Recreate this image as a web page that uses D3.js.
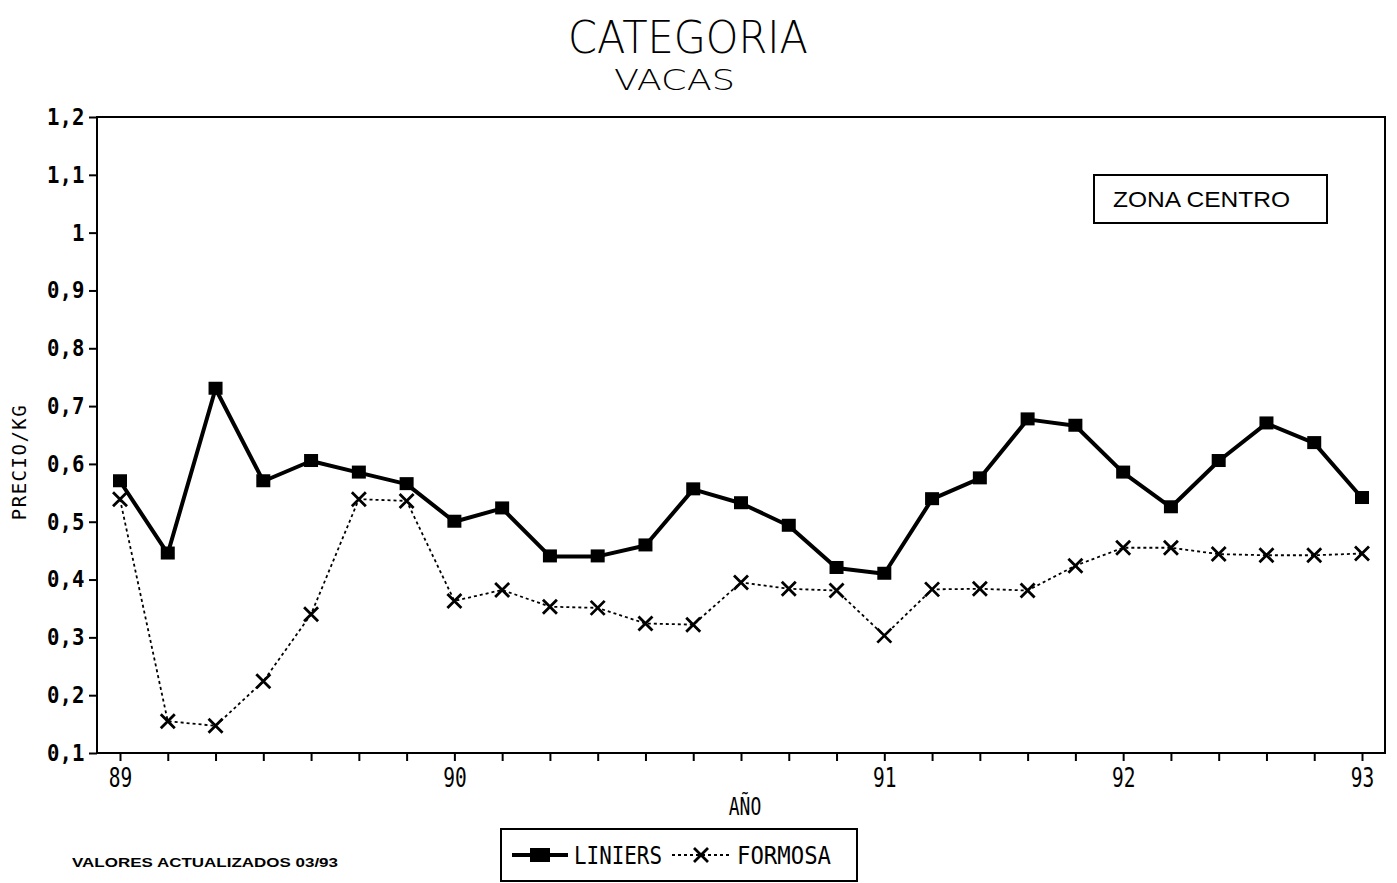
<!DOCTYPE html>
<html>
<head>
<meta charset="utf-8">
<script src="https://cdn.jsdelivr.net/npm/d3@7"></script>
<style>
  body { margin: 0; background: #fff; }
  svg { display: block; }
</style>
</head>
<body>
<script>
var W = 1397, H = 883;

// ---- data ----
var periods = ["89","","","","","","","90","","","","","","","","","91","","","","","92","","","","","93"];
var liniers = [0.57, 0.445, 0.73, 0.57, 0.605, 0.585, 0.565, 0.50, 0.523, 0.44, 0.44, 0.459, 0.556,
               0.532, 0.493, 0.42, 0.41, 0.539, 0.575, 0.677, 0.666, 0.585, 0.525, 0.605, 0.67, 0.636, 0.541];
var formosa = [0.539, 0.155, 0.147, 0.224, 0.34, 0.539, 0.536, 0.363, 0.382, 0.353, 0.351, 0.324, 0.322,
               0.395, 0.384, 0.381, 0.303, 0.383, 0.384, 0.381, 0.424, 0.455, 0.455, 0.444, 0.442, 0.442, 0.445];
var yTicks = [0.1, 0.2, 0.3, 0.4, 0.5, 0.6, 0.7, 0.8, 0.9, 1, 1.1, 1.2];
var seriesNames = ["LINIERS", "FORMOSA"];

var MONO = "DejaVu Sans Mono, monospace";
var SANS = "Liberation Sans, Arial, sans-serif";

var svg = d3.select("body").append("svg")
    .attr("width", W)
    .attr("height", H);

var x = d3.scaleLinear().domain([0, periods.length - 1]).range([120, 1362]);
var y = d3.scaleLinear().domain([0.1, 1.2]).range([753, 117]);

var fmt = function(v) { return String(+v.toFixed(1)).replace(".", ","); };

// titles
svg.append("text")
    .attr("x", 568).attr("y", 53)
    .attr("font-family", "DejaVu Sans, sans-serif")
    .attr("font-weight", 200)
    .attr("font-size", 44)
    .attr("textLength", 240).attr("lengthAdjust", "spacingAndGlyphs")
    .text("CATEGORIA");
svg.append("text")
    .attr("x", 614).attr("y", 90)
    .attr("font-family", "DejaVu Sans, sans-serif")
    .attr("font-weight", 200)
    .attr("font-size", 29)
    .attr("textLength", 121).attr("lengthAdjust", "spacingAndGlyphs")
    .text("VACAS");

// frame
svg.append("rect")
    .attr("x", 97).attr("y", 117)
    .attr("width", 1385 - 97).attr("height", 753 - 117)
    .attr("fill", "none").attr("stroke", "#000").attr("stroke-width", 2);

// y axis
var yAxis = d3.axisLeft(y).tickValues(yTicks).tickSize(8).tickPadding(6).tickFormat(fmt);
var gy = svg.append("g").attr("transform", "translate(97,0)").call(yAxis);
gy.select(".domain").remove();
gy.selectAll("line").attr("stroke-width", 2);
gy.selectAll("text")
    .attr("font-family", MONO)
    .attr("font-weight", "bold")
    .attr("font-size", 23)
    .attr("transform", "scale(0.9,1)");

// x axis (tick at every period)
var xAxis = d3.axisBottom(x).tickValues(d3.range(periods.length)).tickSize(8).tickPadding(8)
    .tickFormat(function(i) { return periods[i]; });
var gx = svg.append("g").attr("transform", "translate(0,753)").call(xAxis);
gx.select(".domain").remove();
gx.selectAll("line").attr("stroke-width", 2);
gx.selectAll("text")
    .attr("font-family", MONO)
    .attr("font-size", 26)
    .attr("transform", "scale(0.75,1)");

// axis titles
svg.append("text")
    .attr("transform", "translate(26,462) rotate(-90)")
    .attr("text-anchor", "middle")
    .attr("font-family", MONO)
    .attr("font-size", 19)
    .attr("letter-spacing", 1.5)
    .text("PRECIO/KG");
svg.append("text")
    .attr("x", 745).attr("y", 815)
    .attr("text-anchor", "middle")
    .attr("font-family", MONO)
    .attr("font-size", 24)
    .attr("transform", "translate(745,0) scale(0.75,1) translate(-745,0)")
    .text("AÑO");

// lines
var line = function(vals) {
    return d3.line().x(function(d, i) { return x(i); }).y(function(d) { return y(d); })(vals);
};
svg.append("path")
    .attr("d", line(formosa))
    .attr("fill", "none").attr("stroke", "#000")
    .attr("stroke-width", 1.8).attr("stroke-dasharray", "3,3");
svg.append("path")
    .attr("d", line(liniers))
    .attr("fill", "none").attr("stroke", "#000")
    .attr("stroke-width", 4).attr("stroke-linejoin", "round");

// markers
svg.append("g").selectAll("rect")
    .data(liniers).enter().append("rect")
    .attr("x", function(d, i) { return x(i) - 7; })
    .attr("y", function(d) { return y(d) - 7; })
    .attr("width", 14).attr("height", 13)
    .attr("fill", "#000");

var xMark = function(cx, cy, s) {
    return "M" + (cx - s) + "," + (cy - s) + "L" + (cx + s) + "," + (cy + s) +
           "M" + (cx - s) + "," + (cy + s) + "L" + (cx + s) + "," + (cy - s);
};
svg.append("g").selectAll("path")
    .data(formosa).enter().append("path")
    .attr("d", function(d, i) { return xMark(x(i), y(d), 7); })
    .attr("stroke", "#000").attr("stroke-width", 2.8).attr("fill", "none");

// zona box
svg.append("rect")
    .attr("x", 1094).attr("y", 175).attr("width", 233).attr("height", 48)
    .attr("fill", "none").attr("stroke", "#000").attr("stroke-width", 2);
svg.append("text")
    .attr("x", 1113).attr("y", 207)
    .attr("font-family", SANS)
    .attr("font-size", 22)
    .attr("textLength", 177).attr("lengthAdjust", "spacingAndGlyphs")
    .text("ZONA CENTRO");

// legend
var lg = svg.append("g");
lg.append("rect")
    .attr("x", 501).attr("y", 829).attr("width", 356).attr("height", 52)
    .attr("fill", "none").attr("stroke", "#000").attr("stroke-width", 2);
lg.append("line").attr("x1", 512).attr("x2", 568).attr("y1", 855).attr("y2", 855)
    .attr("stroke", "#000").attr("stroke-width", 4);
lg.append("rect").attr("x", 530).attr("y", 848).attr("width", 20).attr("height", 14).attr("fill", "#000");
lg.append("text")
    .attr("x", 574).attr("y", 864)
    .attr("font-family", MONO)
    .attr("font-size", 25)
    .attr("textLength", 88).attr("lengthAdjust", "spacingAndGlyphs")
    .text(seriesNames[0]);
lg.append("line").attr("x1", 672).attr("x2", 730).attr("y1", 855).attr("y2", 855)
    .attr("stroke", "#000").attr("stroke-width", 1.8).attr("stroke-dasharray", "3,3");
lg.append("path").attr("d", xMark(701, 855, 7))
    .attr("stroke", "#000").attr("stroke-width", 2.8).attr("fill", "none");
lg.append("text")
    .attr("x", 737).attr("y", 864)
    .attr("font-family", MONO)
    .attr("font-size", 25)
    .attr("textLength", 94).attr("lengthAdjust", "spacingAndGlyphs")
    .text(seriesNames[1]);

// footnote
svg.append("text")
    .attr("x", 72).attr("y", 867)
    .attr("font-family", SANS)
    .attr("font-weight", "bold")
    .attr("font-size", 13)
    .attr("textLength", 266).attr("lengthAdjust", "spacingAndGlyphs")
    .text("VALORES ACTUALIZADOS 03/93");
</script>
</body>
</html>
